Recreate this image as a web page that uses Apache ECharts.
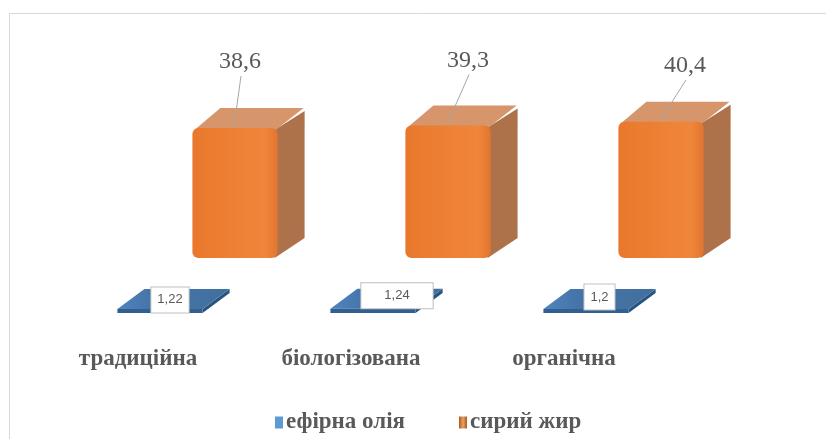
<!DOCTYPE html>
<html><head><meta charset="utf-8">
<script src="https://cdn.jsdelivr.net/npm/echarts@6/dist/echarts.min.js"></script>
<style>html,body{margin:0;padding:0;background:#fff}#c{width:826px;height:439px}</style>
</head><body><div id="c"></div>
<script>
// ---- data ----
const categories = ['традиційна', 'біологізована', 'органічна'];
const seriesNames = ['ефірна олія', 'сирий жир'];
const essentialOil = [1.22, 1.24, 1.2];
const rawFat = [38.6, 39.3, 40.4];

// ---- layout / style constants ----
const DEPTH = [27, -20];
const ROW_SHIFT = [75, -55];
const BAR_RATIO = 0.4;
const FAT_LABEL_NUDGE = [[5, -66], [20, -65], [24, -56]];
const OIL_LABEL_NUDGE = [[-3.5, 1], [10.5, -3], [0, -2]];
const OIL_LABEL_PAD = [[6, 6], [6, 23], [6, 6]];
const SERIF = 'Liberation Serif';
const SANS = 'Liberation Sans';

const fmt = v => String(v).replace('.', ',');

function boxGeom(api, shift) {
  const i = api.value(0), v = api.value(1);
  const base = api.coord([i, 0]);
  const top = api.coord([i, v]);
  const w = api.size([1, 0])[0] * BAR_RATIO;
  const cx = base[0] + shift[0];
  return { i, v, cx, w, x0: cx - w / 2, x1: cx + w / 2, yb: base[1] + shift[1], yt: top[1] + shift[1] };
}

function renderFat(params, api) {
  const g = boxGeom(api, ROW_SHIFT);
  const [dx, dy] = DEPTH;
  const n = FAT_LABEL_NUDGE[g.i];
  const lx = g.cx + n[0], ly = g.yt + n[1];
  return {
    type: 'group', children: [
      { type: 'polygon', shape: { points: [[g.x1 - 3, g.yt + 2], [g.x1 + dx, g.yt + dy + 3], [g.x1 + dx, g.yb + dy], [g.x1 - 3, g.yb]] },
        style: { fill: '#ae724a' } },
      { type: 'polygon', shape: { points: [[g.x0 + 2, g.yt + 2], [g.x1 - 2, g.yt + 2], [g.x1 + dx - 1, g.yt + dy], [g.x0 + dx + 1, g.yt + dy]] },
        style: { fill: '#d6956b' } },
      { type: 'rect', shape: { x: g.x0, y: g.yt, width: g.w, height: g.yb - g.yt, r: 6 },
        style: { fill: new echarts.graphic.LinearGradient(0, 0, 1, 0, [
          { offset: 0, color: '#e9782c' }, { offset: 0.85, color: '#f0863a' }, { offset: 1, color: '#e27530' }]) } },
      { type: 'line', shape: { x1: lx + 1, y1: ly + 14, x2: g.cx - 1, y2: g.yt - 1 },
        style: { stroke: '#a6a6a6', lineWidth: 1 } },
      { type: 'text', style: { text: fmt(g.v), x: lx, y: ly, align: 'center', verticalAlign: 'middle',
        font: '24px "Liberation Serif"', fill: '#595959' } }
    ]
  };
}

function renderOil(params, api) {
  const g = boxGeom(api, [0, 0]);
  const [dx, dy] = DEPTH;
  const n = OIL_LABEL_NUDGE[g.i];
  const p = OIL_LABEL_PAD[g.i];
  const tcx = g.cx + dx / 2 + n[0], tcy = g.yt + dy / 2 + n[1];
  return {
    type: 'group', children: [
      { type: 'polygon', shape: { points: [[g.x1, g.yt], [g.x1 + dx, g.yt + dy], [g.x1 + dx, g.yb + dy], [g.x1, g.yb]] },
        style: { fill: '#2a5480' } },
      { type: 'polygon', shape: { points: [[g.x0, g.yt], [g.x1, g.yt], [g.x1 + dx, g.yt + dy], [g.x0 + dx, g.yt + dy]] },
        style: { fill: new echarts.graphic.LinearGradient(0, 0, 1, 0, [
          { offset: 0, color: '#4f85be' }, { offset: 0.3, color: '#4574a8' }, { offset: 1, color: '#41709f' }]) } },
      { type: 'rect', shape: { x: g.x0, y: g.yt, width: g.w, height: g.yb - g.yt },
        style: { fill: '#305f90' } },
      { type: 'text', style: { text: fmt(g.v), x: tcx, y: tcy, align: 'center', verticalAlign: 'middle',
        fontFamily: SANS, fontSize: 13, fill: '#595959', backgroundColor: '#ffffff', borderColor: '#bfbfbf',
        borderWidth: 1, padding: p } }
    ]
  };
}

const chart = echarts.init(document.getElementById('c'), null, { renderer: 'canvas' });
chart.setOption({
  backgroundColor: '#ffffff',
  animation: false,
  graphic: [{ type: 'rect', shape: { x: 9.5, y: 13.5, width: 900, height: 500 },
    style: { fill: 'none', stroke: '#d9d9d9', lineWidth: 1 }, silent: true, z: -10 }],
  grid: { left: 53.5, right: 133.5, top: 144.5, bottom: 126 },
  xAxis: {
    type: 'category', data: categories,
    axisLine: { show: false }, axisTick: { show: false }, splitLine: { show: false },
    axisLabel: { margin: 35, padding: [0, 44, 0, 0], interval: 0, fontFamily: SERIF, fontWeight: 'bold', fontSize: 23, color: '#595959' }
  },
  yAxis: { type: 'value', min: 0, max: 50, show: false, splitLine: { show: false } },
  legend: {
    left: 270, top: 406, itemWidth: 8, itemHeight: 12, itemGap: 54,
    textStyle: { fontFamily: SERIF, fontWeight: 'bold', fontSize: 23, color: '#595959', padding: [0, 0, 0, -2] },
    data: [
      { name: seriesNames[0], icon: 'rect', itemStyle: { color: '#5b9bd5' } },
      { name: seriesNames[1], icon: 'rect', itemStyle: { color: new echarts.graphic.LinearGradient(0, 0, 1, 0, [
        { offset: 0, color: '#a65a20' }, { offset: 0.5, color: '#f0a060' }, { offset: 1, color: '#a65a20' }]) } }
    ]
  },
  series: [
    { name: seriesNames[1], type: 'custom', renderItem: renderFat, clip: false,
      itemStyle: { color: '#ed7d31' }, encode: { x: 0, y: 1 },
      data: rawFat.map((v, i) => [i, v]) },
    { name: seriesNames[0], type: 'custom', renderItem: renderOil, clip: false,
      itemStyle: { color: '#5b9bd5' }, encode: { x: 0, y: 1 },
      data: essentialOil.map((v, i) => [i, v]) }
  ]
});
</script>
</body></html>
